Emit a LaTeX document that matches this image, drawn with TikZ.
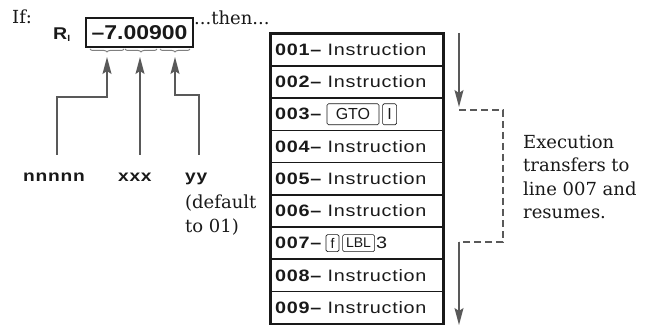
\documentclass[tikz,border=0pt]{standalone}
\usepackage{fontspec}
\setmainfont{DejaVu Serif}
\newfontfamily\hvw[FakeStretch=1.2,LetterSpace=4.5]{Liberation Sans}
\newfontfamily\hvb[FakeStretch=1.15]{Liberation Sans}
\newfontfamily\hvk{Liberation Sans}
\usetikzlibrary{arrows.meta,decorations.pathreplacing,positioning}
\definecolor{ink}{gray}{0.1}
\definecolor{lineg}{gray}{0.35}
\begin{document}
\begin{tikzpicture}[x=1pt,y=-1pt,
  serif/.style={font=\fontsize{18}{23.5}\selectfont, inner sep=0pt, text=ink, align=left},
  sans/.style={font=\hvw\fontsize{16.5}{18}\selectfont, inner sep=0pt, text=ink},
  lab/.style={font=\hvw\bfseries\fontsize{16}{18}\selectfont, inner sep=0pt, text=ink, anchor=base west},
  rowbox/.style={draw=ink, line width=1.6pt, minimum width=172pt, minimum height=32.2pt, anchor=north west, inner sep=0pt},
  keycap/.style={draw=ink, rounded corners=1.5pt, line width=0.6pt, inner sep=0pt, font=\hvk\fontsize{14}{14}\selectfont, text=ink, minimum height=17pt},
  arr/.style={draw=lineg, line width=1.3pt, -{Stealth[length=17pt,width=9pt,inset=3pt]}},
  flow/.style={draw=lineg, line width=1.3pt},
  brc/.style={draw=gray, line width=1pt, decorate, decoration={brace,mirror,amplitude=3pt}}
]
\useasboundingbox (0,0) rectangle (651,326);

% left part
\node[serif, anchor=base west] (if) at (12,24) {If:};
\node[inner sep=0pt, anchor=base west, text=ink, font=\hvb\bfseries\fontsize{17}{18}\selectfont] (rlab) at (53,40) {R\raisebox{-2pt}{\fontsize{9}{9}\selectfont I}};
\node[draw=ink, line width=1.5pt, minimum width=107pt, minimum height=29pt, inner sep=0pt,
      font=\hvb\bfseries\fontsize{20}{22}\selectfont, text=ink] (reg) at (139.5,32.5) {–7.00900};
\node[serif, anchor=base west] (then) at (194,25) {...then...};

\draw[brc] (90,49) -- (124,49);
\draw[brc] (125,49) -- (157,49);
\draw[brc] (160,49) -- (190,49);

\coordinate (t1) at (107,57);
\coordinate (t2) at (140,57);
\coordinate (t3) at (175,57);
\coordinate (b1) at (57,155);
\coordinate (b2) at (140,155);
\coordinate (b3) at (199,155);
\draw[arr] (b1) |- (107,97) -- (t1);
\draw[arr] (b2) -- (t2);
\draw[arr] (b3) |- (175,95) -- (t3);

\node[lab] (nn) at (23,182) {nnnnn};
\node[lab] (xx) at (118,182) {xxx};
\node[lab] (yy) at (185,182) {yy};
\node[serif, anchor=north west] (def) at (185,195) {(default\\to 01)};

% table
\foreach \i in {1,...,9} {
  \node[rowbox] (r\i) at (270,{33+(\i-1)*32.2}) {};
}
\draw[ink, line width=2pt] (r1.north west) rectangle (r9.south east);
\foreach \i in {1,2,4,5,6,8,9} {
  \node[sans, anchor=west] at ([xshift=5pt]r\i.west) {\bfseries 00\i–\mdseries\ Instruction};
}
\node[sans, anchor=west] (l3) at ([xshift=5pt]r3.west) {\bfseries 003–};
\node[keycap, minimum width=52pt, minimum height=21pt, font=\hvk\fontsize{16}{16}\selectfont, right=5pt of l3] (gto) {GTO};
\node[keycap, minimum width=14pt, minimum height=21pt, font=\hvk\fontsize{16}{16}\selectfont, right=3pt of gto] (ik) {I};
\node[sans, anchor=west] (l7) at ([xshift=5pt]r7.west) {\bfseries 007–};
\node[keycap, minimum width=13pt, right=4pt of l7] (fk) {f};
\node[keycap, minimum width=32pt, right=3pt of fk] (lbl) {LBL};
\node[sans, right=1pt of lbl] (three) {3};

% flow
\coordinate (f0) at (459,33);
\coordinate (f1) at (459,107);
\coordinate (f2) at (459,110);
\coordinate (f3) at (503,110);
\coordinate (f4) at (503,242);
\coordinate (f5) at (459,242);
\coordinate (f6) at (459,325);
\draw[arr] (f0) -- (f1);
\draw[flow, dashed, dash pattern=on 7pt off 4pt] (f2) -- (f3) -- (f4) -- (f5);
\draw[arr] (f5) -- (f6);

\node[serif, anchor=north west] (exe) at (523,135) {Execution\\transfers to\\line 007 and\\resumes.};
\end{tikzpicture}
\end{document}
